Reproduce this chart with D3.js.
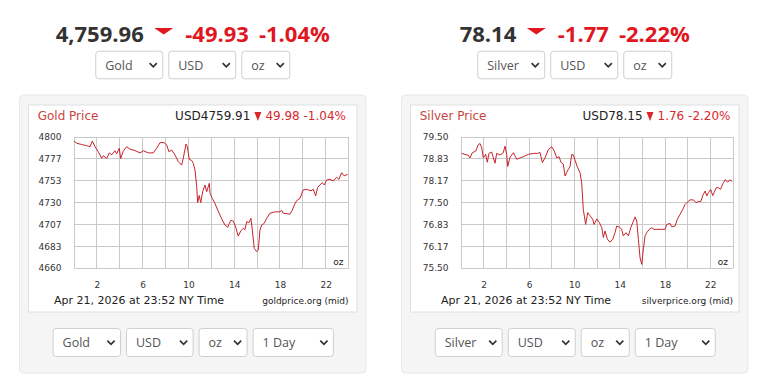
<!DOCTYPE html>
<html><head><meta charset="utf-8">
<script src="https://cdn.jsdelivr.net/npm/d3@7"></script>
<style>
html,body{margin:0;padding:0;background:#fff;}
svg{display:block;}
</style></head><body>
<svg id="c" width="764" height="389"></svg>
<script>
// ---------- DATA ----------
const goldHours = [0.0,0.24,0.67,1.11,1.40,1.60,1.84,2.12,2.42,2.56,2.86,3.09,3.30,3.58,3.73,3.96,4.08,4.31,4.61,4.90,5.33,5.77,6.06,6.50,6.93,7.23,7.52,7.87,8.10,8.30,8.54,8.83,9.12,9.41,9.55,9.79,9.90,10.08,10.29,10.43,10.58,10.73,10.81,10.95,11.08,11.25,11.45,11.60,11.83,11.89,12.09,12.33,12.56,12.76,12.96,13.20,13.44,13.55,13.72,13.93,14.13,14.36,14.60,14.80,14.95,15.10,15.30,15.47,15.59,15.76,15.97,16.11,16.26,16.41,16.63,16.84,17.13,17.57,18.01,18.15,18.30,18.88,19.08,19.26,19.47,19.76,20.04,20.34,20.72,20.92,21.13,21.30,21.50,21.70,21.88,22.09,22.38,22.67,22.96,23.16,23.40,23.62,23.92];
const goldPrices = [4795.7,4793.3,4792.0,4790.7,4789.6,4795.7,4789.6,4784.3,4777.2,4780.0,4777.0,4783.0,4781.0,4785.3,4782.0,4788.0,4777.0,4785.0,4789.6,4787.0,4785.5,4783.0,4785.3,4783.0,4783.0,4788.0,4794.0,4794.0,4791.5,4784.3,4786.0,4780.8,4773.6,4770.0,4777.0,4792.5,4790.0,4776.0,4775.0,4771.8,4764.7,4746.9,4729.8,4737.5,4729.8,4741.6,4748.7,4741.6,4750.5,4740.0,4734.5,4729.0,4722.0,4716.6,4711.3,4706.0,4703.5,4707.0,4711.0,4710.0,4704.0,4694.0,4700.0,4702.4,4701.0,4709.5,4708.5,4713.0,4700.6,4681.0,4677.5,4679.0,4700.6,4706.0,4707.7,4713.0,4718.5,4720.0,4720.0,4721.7,4718.5,4717.6,4721.7,4727.3,4732.0,4734.5,4743.4,4744.0,4742.5,4744.1,4737.0,4746.0,4748.7,4751.2,4748.7,4754.0,4754.8,4753.0,4756.9,4754.8,4761.9,4758.5,4760.0];

const silverHours = [0.06,0.35,0.64,0.79,1.00,1.30,1.53,1.68,1.83,1.97,2.18,2.32,2.47,2.71,2.85,3.00,3.15,3.44,3.73,3.88,4.03,4.12,4.32,4.62,4.92,5.21,5.50,5.94,6.38,6.77,6.97,7.18,7.41,7.71,8.01,8.24,8.45,8.65,8.83,9.03,9.18,9.33,9.47,9.62,9.77,9.91,10.06,10.30,10.50,10.65,10.79,11.00,11.18,11.38,11.62,11.74,11.98,12.21,12.42,12.56,12.71,12.91,13.15,13.39,13.59,13.74,13.97,14.18,14.32,14.56,14.77,14.98,15.15,15.36,15.51,15.65,15.80,15.95,16.09,16.24,16.39,16.62,16.83,17.03,17.27,17.71,18.01,18.15,18.45,18.59,18.89,19.09,19.33,19.57,19.77,19.97,20.21,20.51,20.74,20.94,21.16,21.33,21.54,21.69,21.83,22.03,22.21,22.33,22.52,22.72,22.89,23.12,23.33,23.53,23.71,23.92];
const silverPrices = [79.00,78.97,78.94,78.86,79.02,79.07,79.27,79.30,79.17,78.86,78.97,78.73,79.00,79.04,78.87,78.70,79.00,78.95,79.02,79.22,78.97,78.60,78.88,79.02,78.82,78.86,78.90,78.97,79.00,79.00,79.03,78.72,78.86,79.12,79.20,79.07,78.86,78.90,78.72,78.67,78.31,78.42,78.51,78.60,78.97,78.95,78.79,78.56,78.41,78.10,77.29,76.83,77.19,77.10,76.99,76.83,77.00,76.89,76.73,76.43,76.63,76.38,76.29,76.38,76.58,76.78,76.75,76.68,76.48,76.58,76.48,76.73,76.88,77.06,76.93,76.37,75.81,75.61,76.07,76.48,76.58,76.68,76.73,76.68,76.68,76.68,76.68,76.83,76.86,76.76,76.78,76.99,77.14,77.29,77.44,77.51,77.58,77.58,77.49,77.53,77.53,77.71,77.85,77.70,77.80,77.90,77.71,77.80,77.95,77.95,77.90,78.08,78.20,78.12,78.19,78.15];

const xTickValues = [2,6,10,14,18,22];
const goldYTicks = [4660,4683.33,4706.67,4730,4753.33,4776.67,4800];
const silverYTicks = [75.5,76.1667,76.8333,77.5,78.1667,78.8333,79.5];

const metals = ["Gold","Silver"];
const spotPrices = ["4,759.96","78.14"];
const spotChanges = ["-49.93","-1.77"];
const spotPercents = ["-1.04%","-2.22%"];
const chartPrices = ["USD4759.91","USD78.15"];
const chartChanges = ["49.98 -1.04%","1.76 -2.20%"];
const sources = ["goldprice.org (mid)","silverprice.org (mid)"];
const timestamp = "Apr 21, 2026 at 23:52 NY Time";
const currencyOptions = ["USD"];
const unitOptions = ["oz"];
const rangeOptions = ["1 Day"];

// ---------- DRAW ----------
const svg = d3.select("#c");
const RED = "#e0171f";
const LINE = "#c8232a";
const GRID = "#c9c9c9";
const CHART_FONT = "'DejaVu Sans', Verdana, sans-serif";
const UI_FONT = "'Open Sans', sans-serif";

function selectBox(g, x, y, w, h, label){
  const s = g.append("g");
  s.append("rect").attr("x",x+0.5).attr("y",y+0.5).attr("width",w-1).attr("height",h-1)
    .attr("rx",3).attr("fill","#fff").attr("stroke","#cfcfcf");
  s.append("text").attr("x",x+10).attr("y",y+h/2+4.5).text(label)
    .attr("font-family",UI_FONT).attr("font-size",12.5).attr("fill","#555");
  const cx = x+w-10, cy = y+h/2;
  s.append("path").attr("d",`M${cx-3.6},${cy-1.8}L${cx},${cy+1.8}L${cx+3.6},${cy-1.8}`)
    .attr("fill","none").attr("stroke","#333").attr("stroke-width",1.7);
}

const cfg = [
  {left:19.5, plotL:74, plotR:348.5, hours:goldHours, prices:goldPrices, ticks:goldYTicks, fmt:d3.format(".0f"),
   topSel:[68,68,49], botSel:[68.4,67.6,49,81.3]},
  {left:401.5, plotL:461, plotR:733, hours:silverHours, prices:silverPrices, ticks:silverYTicks, fmt:d3.format(".2f"),
   topSel:[68,68,49], botSel:[68,68,49,81]}
];

cfg.forEach((c,i)=>{
  const g = svg.append("g");
  const W = 346.5;
  const center = c.left + W/2;

  // ---- top header ----
  const hdr = g.append("g");
  const t1 = hdr.append("text").text(spotPrices[i]).attr("font-family",UI_FONT).attr("font-weight",700)
    .attr("font-size",22).attr("fill","#333").attr("y",41.7);
  const t2 = hdr.append("text").text(spotChanges[i]).attr("font-family",UI_FONT).attr("font-weight",700)
    .attr("font-size",22).attr("fill",RED).attr("y",41.7);
  const t3 = hdr.append("text").text(spotPercents[i]).attr("font-family",UI_FONT).attr("font-weight",700)
    .attr("font-size",22).attr("fill",RED).attr("y",41.7);
  const w1 = t1.node().getComputedTextLength(), w2 = t2.node().getComputedTextLength(), w3 = t3.node().getComputedTextLength();
  const triW = 19, g1 = 10.5, g2 = 12, g3 = 10;
  const total = w1+g1+triW+g2+w2+g3+w3;
  let x0 = center - total/2;
  t1.attr("x",x0);
  const tx = x0+w1+g1;
  hdr.append("path").attr("d",`M${tx},28L${tx+triW},28L${tx+triW/2},34.6Z`).attr("fill",RED);
  t2.attr("x",tx+triW+g2);
  t3.attr("x",tx+triW+g2+w2+g3);

  // ---- top selects ----
  const topLabels = [metals[i], currencyOptions[0], unitOptions[0]];
  const tsTotal = c.topSel.reduce((a,b)=>a+b,0) + 5*(c.topSel.length-1);
  let sx = center - tsTotal/2;
  c.topSel.forEach((w,k)=>{ selectBox(g, sx, 50.7, w, 28.6, topLabels[k]); sx += w+5; });

  // ---- panel ----
  g.append("rect").attr("x",c.left).attr("y",95).attr("width",W).attr("height",278)
    .attr("rx",4).attr("fill","#f5f5f5").attr("stroke","#e8e8e8");
  g.append("rect").attr("x",c.left+9).attr("y",105).attr("width",W-18).attr("height",207)
    .attr("fill","#fff").attr("stroke","#e0e0e0");

  // chart title
  g.append("text").attr("x",c.left+18.2).attr("y",120).text(metals[i]+" Price")
    .attr("font-family",CHART_FONT).attr("font-size",12).attr("fill","#c8453f");
  // right header
  const rEnd = c.plotR - 2.5;
  const rc = g.append("text").attr("y",120).attr("font-family",CHART_FONT).attr("font-size",12)
    .attr("fill","#d8282c").attr("text-anchor","end").attr("x",rEnd).text(chartChanges[i]);
  const rcw = rc.node().getComputedTextLength();
  const trX = rEnd - rcw - 4 - 7;
  g.append("path").attr("d",`M${trX},112L${trX+7},112L${trX+3.5},121Z`).attr("fill","#d8282c");
  g.append("text").attr("y",120).attr("font-family",CHART_FONT).attr("font-size",12)
    .attr("fill","#222").attr("text-anchor","end").attr("x",trX-4).text(chartPrices[i]);

  // scales
  const x = d3.scaleLinear().domain([0,24]).range([c.plotL,c.plotR]);
  const y = d3.scaleLinear().domain([c.ticks[0],c.ticks[c.ticks.length-1]]).range([268,137]);

  // grid
  const grid = g.append("g").attr("stroke",GRID).attr("stroke-width",1).attr("shape-rendering","crispEdges");
  d3.range(0,25,2).forEach(h=>{
    grid.append("line").attr("x1",x(h)).attr("x2",x(h)).attr("y1",y.range()[1]).attr("y2",y.range()[0]);
  });
  c.ticks.forEach(v=>{
    grid.append("line").attr("x1",c.plotL).attr("x2",c.plotR).attr("y1",y(v)).attr("y2",y(v));
  });

  // y axis labels
  const yAx = g.append("g").attr("transform",`translate(${c.plotL},0)`)
    .call(d3.axisLeft(y).tickValues(c.ticks).tickFormat(c.fmt).tickSize(0).tickPadding(12.5));
  yAx.select(".domain").remove();
  yAx.selectAll("text").attr("font-family",CHART_FONT).attr("font-size",9).attr("fill","#333");

  // x axis labels
  const xAx = g.append("g").attr("transform",`translate(0,268)`)
    .call(d3.axisBottom(x).tickValues(xTickValues).tickFormat(d3.format("d")).tickSize(0).tickPadding(14));
  xAx.select(".domain").remove();
  xAx.selectAll("text").attr("font-family",CHART_FONT).attr("font-size",9).attr("fill","#333");

  // line
  const pts = c.hours.map((h,k)=>[h,c.prices[k]]);
  g.append("path").datum(pts).attr("fill","none").attr("stroke",LINE).attr("stroke-width",1)
    .attr("stroke-linejoin","round")
    .attr("d", d3.line().x(d=>x(d[0])).y(d=>y(d[1])));

  // unit label
  g.append("text").attr("x",c.plotR-5).attr("y",265).attr("text-anchor","end").text(unitOptions[0])
    .attr("font-family",CHART_FONT).attr("font-size",9).attr("fill","#222");

  // footer
  g.append("text").attr("x",c.plotL-20).attr("y",303.5).text(timestamp)
    .attr("font-family",CHART_FONT).attr("font-size",11).attr("fill","#222");
  g.append("text").attr("x",c.plotR).attr("y",303.5).attr("text-anchor","end").text(sources[i])
    .attr("font-family",CHART_FONT).attr("font-size",9).attr("fill","#222");

  // bottom selects
  const botLabels = [metals[i], currencyOptions[0], unitOptions[0], rangeOptions[0]];
  const bsTotal = c.botSel.reduce((a,b)=>a+b,0) + 5*(c.botSel.length-1);
  let bx = center + 0.5 - bsTotal/2;
  c.botSel.forEach((w,k)=>{ selectBox(g, bx, 328, w, 29, botLabels[k]); bx += w+5; });
});
</script>
</body></html>
